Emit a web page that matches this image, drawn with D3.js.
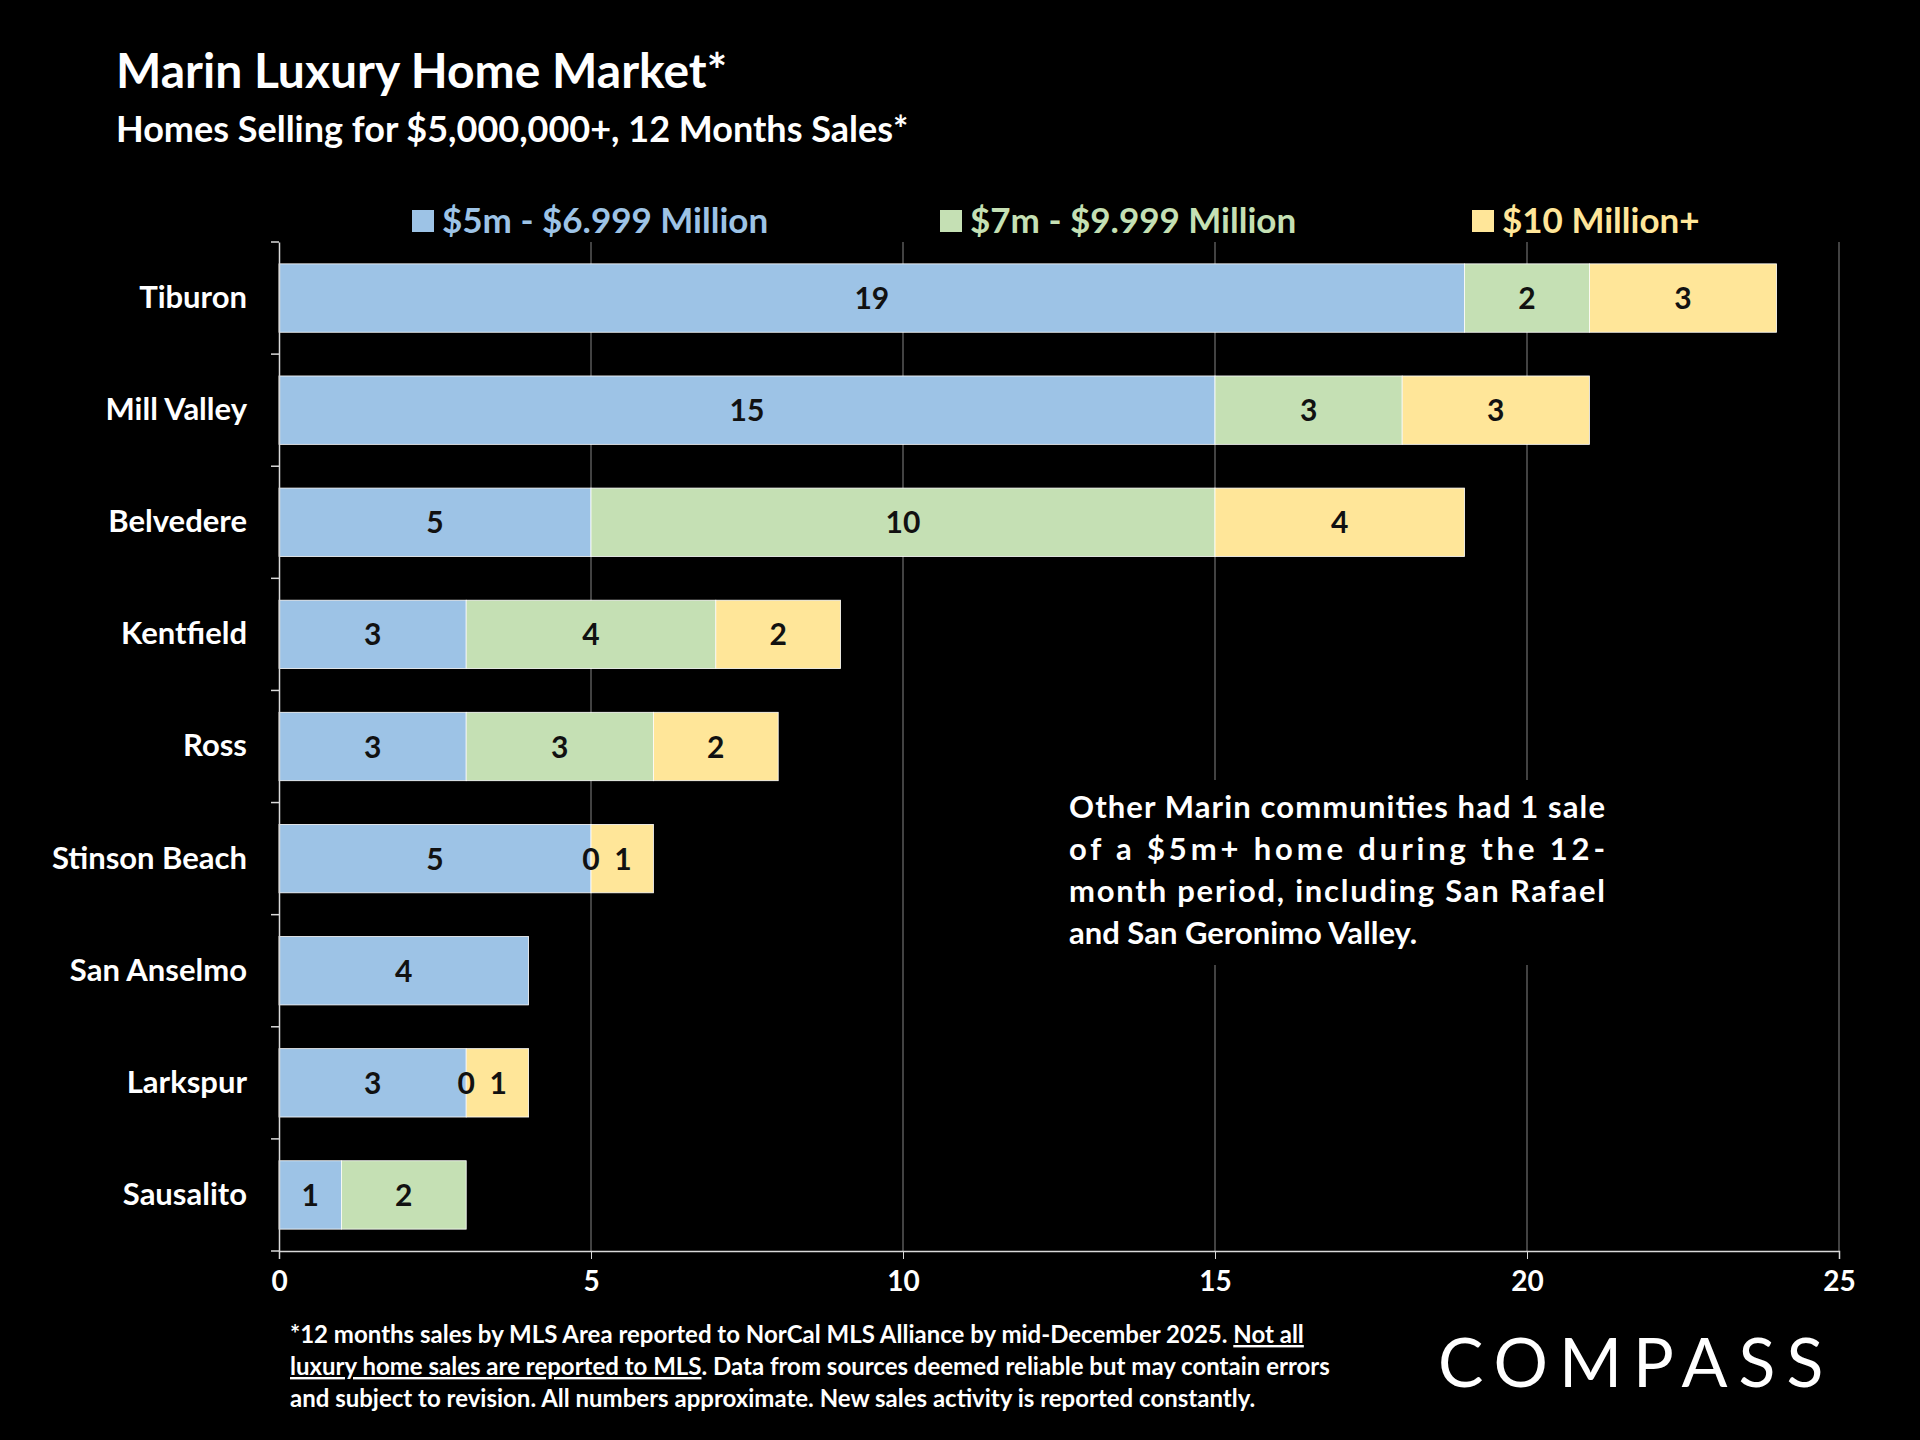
<!DOCTYPE html>
<html><head><meta charset="utf-8">
<script src="https://cdn.jsdelivr.net/npm/d3@7"></script>
<style>body{margin:0;background:#000}svg{display:block}</style>
</head><body>
<script>
const areas = ["Tiburon","Mill Valley","Belvedere","Kentfield","Ross","Stinson Beach","San Anselmo","Larkspur","Sausalito"];
const band5to7 = [19,15,5,3,3,5,4,3,1];
const band7to10 = [2,3,10,4,3,0,null,0,2];
const band10plus = [3,3,4,2,2,1,null,1,null];
const seriesNames = ["$5m - $6.999 Million","$7m - $9.999 Million","$10 Million+"];
const colors = ["#9DC3E6","#C5E0B4","#FFE699"];
const xTicks = [0,5,10,15,20,25];

const W = 1920, H = 1440;
const font = "Lato, 'Open Sans', sans-serif";
const svg = d3.select("body").append("svg").attr("width", W).attr("height", H)
  .style("background", "#000").style("font-family", font);

const x = d3.scaleLinear().domain([0, 25]).range([279, 1839]);
const y = d3.scaleBand().domain(areas).range([242, 1251]).paddingInner(0.39).paddingOuter(0.195);

// gridlines
svg.append("g").selectAll("line").data(xTicks.slice(1)).join("line")
  .attr("x1", d => x(d)).attr("x2", d => x(d)).attr("y1", 242).attr("y2", 1251)
  .attr("stroke", "#595959").attr("stroke-width", 1.5);

// stacked bars
const rows = areas.map((a, i) => ({ area: a, vals: [band5to7[i], band7to10[i], band10plus[i]] }));
const labels = [];
rows.forEach(r => {
  let acc = 0;
  r.vals.forEach((v, s) => {
    if (v === null) return;
    const x0 = acc, x1 = acc + v;
    acc = x1;
    svg.append("rect").attr("x", x(x0)).attr("y", y(r.area)).attr("width", x(x1) - x(x0))
      .attr("height", y.bandwidth()).attr("fill", colors[s]).attr("stroke", "#fff").attr("stroke-width", 0.8);
    let cx = (x(x0) + x(x1)) / 2;
    if (v === 0) cx = x(x0);
    if (v === 1 && r.vals[1] === 0 && s === 2) cx = x(x0) + 32;
    labels.push({ cx, cy: y(r.area) + y.bandwidth() / 2 + 11, v });
  });
});
svg.append("g").selectAll("text").data(labels).join("text")
  .attr("x", d => d.cx).attr("y", d => d.cy)
  .attr("text-anchor", "middle").attr("font-size", 30).attr("font-weight", 700)
  .attr("fill", "#111").text(d => d.v);

// axes
const xAxis = svg.append("g").attr("transform", "translate(0,1251)")
  .call(d3.axisBottom(x).tickValues(xTicks).tickSize(8).tickPadding(12));
xAxis.select(".domain").attr("stroke", "#d9d9d9").attr("stroke-width", 1.5);
xAxis.selectAll(".tick line").attr("stroke", "#d9d9d9");
xAxis.selectAll("text").attr("fill", "#fff").attr("font-size", 28).attr("font-weight", 700).attr("font-family", font);

const yAxis = svg.append("g").attr("transform", "translate(279,0)")
  .call(d3.axisLeft(y).tickSize(0).tickPadding(32));
yAxis.select(".domain").attr("stroke", "#d9d9d9").attr("stroke-width", 1.5);
yAxis.selectAll("text").attr("fill", "#fff").attr("font-size", 31).attr("font-weight", 700).attr("font-family", font);
// category separator ticks
svg.append("g").selectAll("line").data(d3.range(areas.length + 1)).join("line")
  .attr("x1", 271).attr("x2", 279)
  .attr("y1", i => 242 + i * (1009 / areas.length)).attr("y2", i => 242 + i * (1009 / areas.length))
  .attr("stroke", "#d9d9d9").attr("stroke-width", 1.5);

// titles
svg.append("text").attr("x", 116).attr("y", 88).attr("fill", "#fff").attr("font-size", 48)
  .attr("font-weight", 700).text("Marin Luxury Home Market*");
svg.append("text").attr("x", 116).attr("y", 142).attr("fill", "#fff").attr("font-size", 36)
  .attr("font-weight", 700).text("Homes Selling for $5,000,000+, 12 Months Sales*");

// legend
const legX = [412, 940, 1472];
seriesNames.forEach((n, i) => {
  svg.append("rect").attr("x", legX[i]).attr("y", 210).attr("width", 22).attr("height", 22).attr("fill", colors[i]);
  svg.append("text").attr("x", legX[i] + 30).attr("y", 233).attr("fill", colors[i]).attr("font-size", 35)
    .attr("font-weight", 700).text(n);
});

// annotation
const noteLines = ["Other Marin communities had 1 sale", "of a $5m+ home during the 12-",
  "month period, including San Rafael", "and San Geronimo Valley."];
svg.append("rect").attr("x", 1060).attr("y", 780).attr("width", 560).attr("height", 185).attr("fill", "#000");
noteLines.forEach((t, i) => {
  const tx = svg.append("text").attr("x", 1069).attr("y", 818 + i * 42).attr("fill", "#fff")
    .attr("font-size", 31).attr("font-weight", 700).text(t);
  if (i < 3) tx.attr("textLength", 536).attr("lengthAdjust", "spacing");
});

// footer
const foot = svg.append("g").attr("fill", "#fff").attr("font-size", 24).attr("font-weight", 700);
const f1 = foot.append("text").attr("x", 290).attr("y", 1343);
f1.append("tspan").text("*12 months sales by MLS Area reported to NorCal MLS Alliance by mid-December 2025. ");
f1.append("tspan").attr("text-decoration", "underline").text("Not all");
const f2 = foot.append("text").attr("x", 290).attr("y", 1375);
f2.append("tspan").attr("text-decoration", "underline").text("luxury home sales are reported to MLS");
f2.append("tspan").text(". Data from sources deemed reliable but may contain errors");
foot.append("text").attr("x", 290).attr("y", 1407)
  .text("and subject to revision. All numbers approximate. New sales activity is reported constantly.");

// logo
svg.append("text").attr("x", 1438).attr("y", 1387).attr("fill", "#fff").attr("font-size", 68)
  .attr("font-weight", 400).attr("letter-spacing", 11).text("COMPASS");
</script>
</body></html>
